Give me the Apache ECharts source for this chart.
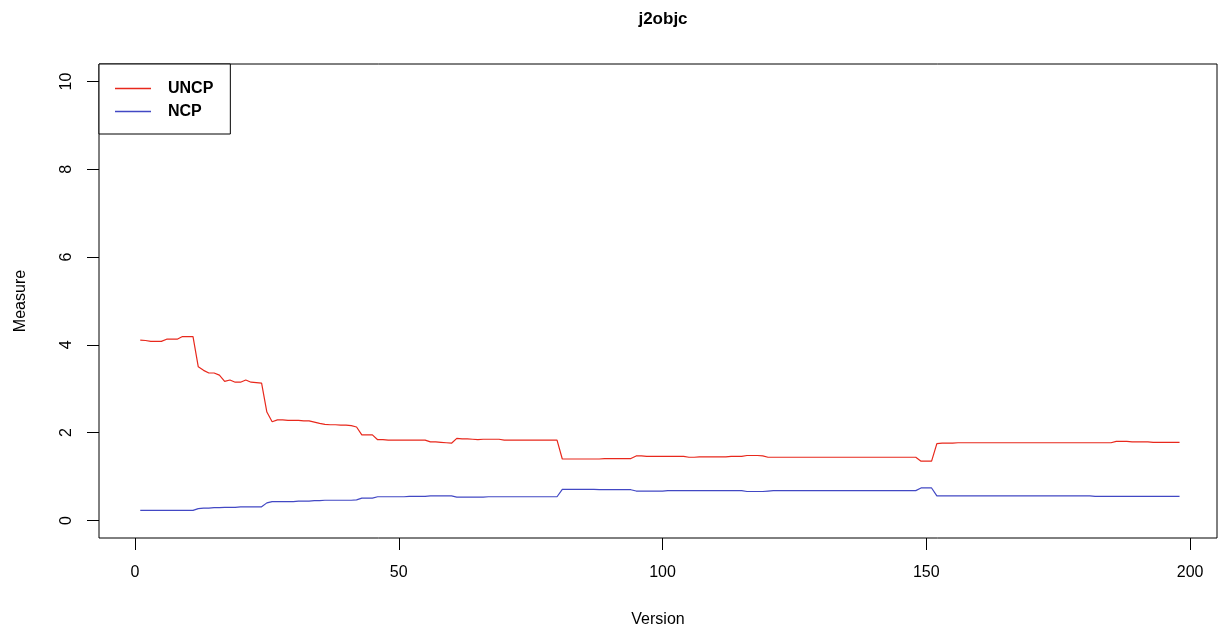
<!DOCTYPE html>
<html>
<head>
<meta charset="utf-8">
<script src="https://cdn.jsdelivr.net/npm/echarts@6/dist/echarts.min.js"></script>
<style>html,body{margin:0;padding:0;background:#fff;overflow:hidden}#c{width:1218px;height:633px}</style>
</head>
<body>
<div id="c"></div>
<script>
var title = 'j2objc';
var seriesNames = ['UNCP', 'NCP'];
var xTicks = [0, 50, 100, 150, 200];
var yTicks = [0, 2, 4, 6, 8, 10];

var uncp = [
  4.11,4.10,4.08,4.08,4.08,4.13,4.13,4.13,4.19,4.19,4.19,
  3.50,3.42,3.36,3.36,3.31,3.17,3.20,3.15,3.15,3.20,3.15,3.14,3.13,
  2.47,2.25,2.29,2.29,2.28,2.28,2.28,2.27,2.27,2.24,2.21,2.19,2.18,2.18,2.17,2.17,2.16,2.13,
  1.95,1.95,1.95,1.84,1.84,1.83,1.83,1.83,1.83,1.83,1.83,1.83,1.83,1.79,1.79,1.78,1.77,1.76,
  1.87,1.86,1.86,1.85,1.84,1.85,1.85,1.85,1.85,1.83,
  1.83,1.83,1.83,1.83,1.83,1.83,1.83,1.83,1.83,1.83,
  1.40,1.40,1.40,1.40,1.40,1.40,1.40,1.40,1.41,1.41,1.41,1.41,1.41,1.41,
  1.47,1.47,1.46,1.46,1.46,1.46,1.46,1.46,1.46,1.46,
  1.44,1.44,1.45,1.45,1.45,1.45,1.45,1.45,1.46,1.46,1.46,
  1.48,1.48,1.48,1.47,1.44,
  1.44,1.44,1.44,1.44,1.44,1.44,1.44,1.44,1.44,1.44,1.44,1.44,1.44,1.44,
  1.44,1.44,1.44,1.44,1.44,1.44,1.44,1.44,1.44,1.44,1.44,1.44,1.44,1.44,
  1.35,1.35,1.35,
  1.75,1.76,1.76,1.76,1.77,
  1.77,1.77,1.77,1.77,1.77,1.77,1.77,1.77,1.77,1.77,1.77,1.77,1.77,1.77,1.77,
  1.77,1.77,1.77,1.77,1.77,1.77,1.77,1.77,1.77,1.77,1.77,1.77,1.77,1.77,
  1.80,1.80,1.80,
  1.79,1.79,1.79,1.79,1.78,1.78,1.78,1.78,1.78,1.78
];

var ncp = [
  0.23,0.23,0.23,0.23,0.23,0.23,0.23,0.23,0.23,0.23,0.23,
  0.27,0.28,0.28,0.29,0.29,0.30,0.30,0.30,0.31,0.31,0.31,0.31,0.31,
  0.40,0.43,0.43,0.43,0.43,0.43,0.44,0.44,0.44,0.45,0.45,0.46,0.46,0.46,0.46,0.46,0.46,0.47,
  0.51,0.51,0.51,0.54,0.54,0.54,0.54,0.54,0.54,0.55,0.55,0.55,0.55,0.56,0.56,0.56,0.56,0.56,
  0.53,0.53,0.53,0.53,0.53,0.53,0.54,0.54,0.54,0.54,
  0.54,0.54,0.54,0.54,0.54,0.54,0.54,0.54,0.54,0.54,
  0.71,0.71,0.71,0.71,0.71,0.71,0.71,0.70,0.70,0.70,0.70,0.70,0.70,0.70,
  0.67,0.67,0.67,0.67,0.67,0.67,0.68,0.68,0.68,0.68,
  0.68,0.68,0.68,0.68,0.68,0.68,0.68,0.68,0.68,0.68,0.68,
  0.66,0.66,0.66,0.66,0.67,
  0.68,0.68,0.68,0.68,0.68,0.68,0.68,0.68,0.68,0.68,0.68,0.68,0.68,0.68,
  0.68,0.68,0.68,0.68,0.68,0.68,0.68,0.68,0.68,0.68,0.68,0.68,0.68,0.68,
  0.74,0.74,0.74,
  0.56,0.56,0.56,0.56,0.56,0.56,0.56,0.56,0.56,0.56,0.56,0.56,0.56,0.56,0.56,
  0.56,0.56,0.56,0.56,0.56,0.56,0.56,0.56,0.56,0.56,0.56,0.56,0.56,0.56,0.56,
  0.55,0.55,0.55,0.55,0.55,0.55,0.55,0.55,0.55,0.55,0.55,0.55,0.55,0.55,0.55,0.55,0.55
];

var versions = [];
for (var i = 1; i <= uncp.length; i++) versions.push(i);

function pairs(vals) { return vals.map(function (v, k) { return [versions[k], v]; }); }

var FONT = '"Liberation Sans", Arial, Helvetica, sans-serif';
var RED = '#e8281c', BLUE = '#4248c4';
var chart = echarts.init(document.getElementById('c'), null, { renderer: 'canvas', width: 1218, height: 633 });
chart.setOption({
  animation: false,
  backgroundColor: '#fff',
  title: {
    text: title, left: 658, top: 6, textAlign: 'center',
    textStyle: { fontFamily: FONT, fontWeight: 'bold', fontSize: 17, color: '#000' }
  },
  legend: {
    orient: 'vertical', left: 99, top: 64,
    padding: [15, 17, 13, 16], itemGap: 4, itemWidth: 36, itemHeight: 1.3,
    icon: 'rect',
    borderColor: '#000', borderWidth: 1, backgroundColor: '#fff',
    textStyle: { fontFamily: FONT, fontWeight: 'bold', fontSize: 16, lineHeight: 19, color: '#000', padding: [0, 0, 0, 12] },
    data: [
      { name: seriesNames[0], itemStyle: { color: RED } },
      { name: seriesNames[1], itemStyle: { color: BLUE } }
    ]
  },
  grid: { left: 99, top: 64, width: 1118, height: 479, show: true, borderColor: '#000', borderWidth: 1, containLabel: false },
  xAxis: {
    type: 'value', min: -6.82, max: 205.1,
    name: 'Version', nameLocation: 'middle', nameGap: 74,
    nameTextStyle: { fontFamily: FONT, fontSize: 16, color: '#000' },
    axisLine: { show: false, onZero: false },
    splitLine: { show: false },
    axisTick: { show: true, inside: false, length: 12, customValues: xTicks, lineStyle: { color: '#000' } },
    axisLabel: { customValues: xTicks, margin: 27, fontFamily: FONT, fontSize: 16, color: '#000' }
  },
  yAxis: {
    type: 'value', min: -0.4, max: 10.4,
    name: 'Measure', nameLocation: 'middle', nameGap: 70, nameRotate: 90,
    nameTextStyle: { fontFamily: FONT, fontSize: 16, color: '#000' },
    axisLine: { show: false, onZero: false },
    splitLine: { show: false },
    axisTick: { show: true, inside: false, length: 12, customValues: yTicks, lineStyle: { color: '#000' } },
    axisLabel: { customValues: yTicks, rotate: 90, margin: 24, fontFamily: FONT, fontSize: 16, color: '#000' }
  },
  series: [
    { name: seriesNames[0], type: 'line', data: pairs(uncp), symbol: 'none', lineStyle: { color: RED, width: 1.2 }, itemStyle: { color: RED } },
    { name: seriesNames[1], type: 'line', data: pairs(ncp), symbol: 'none', lineStyle: { color: BLUE, width: 1.2 }, itemStyle: { color: BLUE } }
  ]
});
</script>
</body>
</html>
